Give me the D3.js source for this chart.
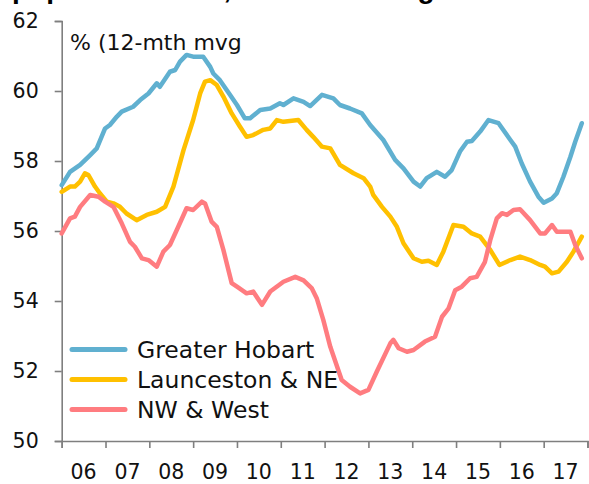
<!DOCTYPE html>
<html>
<head>
<meta charset="utf-8">
<script src="https://cdn.jsdelivr.net/npm/d3@7"></script>
<style>
  html, body { margin: 0; padding: 0; background: #fff; }
  svg { display: block; }
</style>
</head>
<body>
<svg id="chart" width="589" height="484"></svg>
<script>
// Employment-to-population ratio by Tasmanian region, 12-month moving average (%)
const seriesNames = ["Greater Hobart", "Launceston & NE", "NW & West"];
const seriesColors = ["#60B0D0", "#FFC000", "#FF7C80"];

const yearTicks = [2006, 2007, 2008, 2009, 2010, 2011, 2012, 2013, 2014, 2015, 2016, 2017, 2018];
const yearLabels = ["06", "07", "08", "09", "10", "11", "12", "13", "14", "15", "16", "17"];
const valueTicks = [50, 52, 54, 56, 58, 60, 62];

// [decimal year, %]
const hobart = [
  [2006.00, 57.31], [2006.19, 57.69], [2006.42, 57.89], [2006.65, 58.17], [2006.80, 58.36],
  [2006.99, 58.93], [2007.10, 59.03], [2007.26, 59.27], [2007.37, 59.41], [2007.63, 59.55],
  [2007.79, 59.74], [2007.98, 59.93], [2008.17, 60.22], [2008.24, 60.12], [2008.47, 60.55],
  [2008.59, 60.60], [2008.70, 60.84], [2008.85, 61.03], [2009.00, 60.98], [2009.23, 60.98],
  [2009.39, 60.69], [2009.46, 60.50], [2009.61, 60.31], [2009.84, 59.89], [2010.00, 59.60],
  [2010.18, 59.22], [2010.30, 59.22], [2010.53, 59.46], [2010.76, 59.50], [2010.98, 59.65],
  [2011.06, 59.60], [2011.29, 59.79], [2011.52, 59.69], [2011.67, 59.57], [2011.94, 59.89],
  [2012.20, 59.79], [2012.35, 59.60], [2012.58, 59.50], [2012.85, 59.36], [2013.04, 59.03],
  [2013.34, 58.60], [2013.61, 58.03], [2013.80, 57.79], [2014.03, 57.41], [2014.18, 57.27],
  [2014.33, 57.51], [2014.56, 57.69], [2014.75, 57.55], [2014.90, 57.74], [2015.09, 58.27],
  [2015.25, 58.55], [2015.36, 58.57], [2015.55, 58.84], [2015.74, 59.17], [2015.97, 59.08],
  [2016.24, 58.60], [2016.35, 58.41], [2016.50, 57.93], [2016.69, 57.41], [2016.88, 56.98],
  [2017.00, 56.81], [2017.19, 56.93], [2017.30, 57.08], [2017.45, 57.55], [2017.61, 58.12],
  [2017.72, 58.55], [2017.87, 59.08]
];

const launceston = [
  [2006.00, 57.12], [2006.19, 57.27], [2006.30, 57.27], [2006.42, 57.41], [2006.53, 57.65],
  [2006.61, 57.60], [2006.76, 57.27], [2006.87, 57.08], [2007.03, 56.84], [2007.18, 56.79],
  [2007.33, 56.69], [2007.48, 56.50], [2007.71, 56.31], [2007.94, 56.46], [2008.17, 56.55],
  [2008.36, 56.69], [2008.55, 57.27], [2008.78, 58.31], [2009.00, 59.17], [2009.16, 59.93],
  [2009.27, 60.27], [2009.39, 60.31], [2009.54, 60.17], [2009.69, 59.84], [2009.88, 59.36],
  [2010.07, 58.98], [2010.22, 58.69], [2010.37, 58.74], [2010.60, 58.89], [2010.76, 58.93],
  [2010.91, 59.17], [2011.06, 59.12], [2011.40, 59.17], [2011.59, 58.89], [2011.74, 58.69],
  [2011.94, 58.41], [2012.13, 58.36], [2012.35, 57.89], [2012.66, 57.65], [2012.89, 57.51],
  [2013.04, 57.27], [2013.11, 57.03], [2013.31, 56.69], [2013.50, 56.41], [2013.65, 56.12],
  [2013.80, 55.65], [2014.03, 55.22], [2014.22, 55.12], [2014.37, 55.15], [2014.56, 55.03],
  [2014.71, 55.41], [2014.94, 56.17], [2015.17, 56.12], [2015.36, 55.93], [2015.55, 55.84],
  [2015.78, 55.46], [2015.99, 55.03], [2016.24, 55.17], [2016.46, 55.27], [2016.69, 55.17],
  [2016.92, 55.03], [2017.03, 54.98], [2017.19, 54.79], [2017.34, 54.84], [2017.53, 55.12],
  [2017.68, 55.41], [2017.87, 55.84]
];

const nwWest = [
  [2006.00, 55.93], [2006.19, 56.36], [2006.30, 56.41], [2006.42, 56.69], [2006.65, 57.03],
  [2006.84, 56.98], [2006.99, 56.84], [2007.18, 56.69], [2007.37, 56.22], [2007.56, 55.69],
  [2007.67, 55.55], [2007.83, 55.22], [2007.98, 55.17], [2008.17, 54.98], [2008.32, 55.41],
  [2008.47, 55.60], [2008.66, 56.12], [2008.85, 56.65], [2009.00, 56.60], [2009.20, 56.84],
  [2009.27, 56.79], [2009.42, 56.27], [2009.54, 56.12], [2009.69, 55.46], [2009.88, 54.51],
  [2010.00, 54.41], [2010.22, 54.22], [2010.37, 54.27], [2010.57, 53.89], [2010.76, 54.27],
  [2011.06, 54.55], [2011.33, 54.69], [2011.52, 54.59], [2011.71, 54.36], [2011.82, 54.08],
  [2011.97, 53.46], [2012.13, 52.69], [2012.39, 51.74], [2012.58, 51.55], [2012.81, 51.36],
  [2013.00, 51.46], [2013.19, 51.98], [2013.50, 52.79], [2013.57, 52.89], [2013.69, 52.65],
  [2013.88, 52.55], [2014.03, 52.60], [2014.29, 52.84], [2014.52, 52.98], [2014.68, 53.55],
  [2014.83, 53.79], [2014.98, 54.31], [2015.13, 54.41], [2015.32, 54.65], [2015.47, 54.69],
  [2015.66, 55.12], [2015.78, 55.74], [2015.93, 56.36], [2016.05, 56.51], [2016.16, 56.46],
  [2016.31, 56.60], [2016.46, 56.62], [2016.69, 56.31], [2016.92, 55.93], [2017.03, 55.93],
  [2017.19, 56.17], [2017.30, 55.98], [2017.61, 55.98], [2017.72, 55.60], [2017.87, 55.22]
];

const seriesData = [hobart, launceston, nwWest];

const svg = d3.select("#chart");
const FONT = "'DejaVu Sans', 'Noto Sans', sans-serif";
const AXIS_COLOR = "#7f7f7f";

const plot = { left: 61.7, right: 587.5, top: 21, bottom: 441 };

const x = d3.scaleLinear().domain([2006, 2018]).range([plot.left, plot.right]);
const y = d3.scaleLinear().domain([50, 62]).range([plot.bottom, plot.top]);

// Heading, mostly above the visible area
svg.append("text")
  .attr("x", -198).attr("y", -2)
  .attr("font-family", "'Liberation Sans', Arial, sans-serif")
  .attr("font-weight", "bold")
  .attr("font-size", 28)
  .attr("fill", "#000")
  .text("Employment to population ratio, Tasmanian regions");

// Y axis
const yAxis = d3.axisLeft(y).tickValues(valueTicks).tickSize(7).tickPadding(16).tickFormat(d3.format("d"));
const gy = svg.append("g").attr("transform", `translate(${plot.left},0)`).call(yAxis);
gy.select(".domain").attr("stroke", AXIS_COLOR).attr("stroke-width", 1.6);
gy.selectAll(".tick line").attr("stroke", AXIS_COLOR).attr("stroke-width", 1.6);
gy.selectAll(".tick text").attr("font-family", FONT).attr("font-size", 20.5).attr("fill", "#111");

// X axis: ticks at year boundaries, labels centred in each year
const xAxis = d3.axisBottom(x).tickValues(yearTicks).tickSize(7).tickFormat("");
const gx = svg.append("g").attr("transform", `translate(0,${plot.bottom})`).call(xAxis);
gx.select(".domain").attr("stroke", AXIS_COLOR).attr("stroke-width", 1.6);
gx.selectAll(".tick line").attr("stroke", AXIS_COLOR).attr("stroke-width", 1.6);

svg.append("g")
  .selectAll("text")
  .data(yearLabels)
  .join("text")
  .attr("x", (d, i) => x(yearTicks[i] + 0.5))
  .attr("y", plot.bottom + 38)
  .attr("text-anchor", "middle")
  .attr("font-family", FONT)
  .attr("font-size", 20.5)
  .attr("fill", "#111")
  .text(d => d);

// Unit note
svg.append("text")
  .attr("x", 70).attr("y", 50)
  .attr("font-family", FONT)
  .attr("font-size", 22)
  .attr("fill", "#111")
  .text("% (12-mth mvg");

// Series lines
const line = d3.line().x(d => x(d[0])).y(d => y(d[1])).curve(d3.curveLinear);
svg.append("g")
  .selectAll("path")
  .data(seriesData)
  .join("path")
  .attr("d", line)
  .attr("fill", "none")
  .attr("stroke", (d, i) => seriesColors[i])
  .attr("stroke-width", 4.5)
  .attr("stroke-linejoin", "round")
  .attr("stroke-linecap", "round");

// Legend
const legend = svg.append("g")
  .selectAll("g")
  .data(seriesNames)
  .join("g")
  .attr("transform", (d, i) => `translate(0,${349.5 + i * 30})`);
legend.append("line")
  .attr("x1", 72).attr("x2", 125)
  .attr("stroke", (d, i) => seriesColors[i])
  .attr("stroke-width", 5)
  .attr("stroke-linecap", "round");
legend.append("text")
  .attr("x", 137).attr("y", 0)
  .attr("dy", "0.36em")
  .attr("font-family", FONT)
  .attr("font-size", 23.5)
  .attr("fill", "#111")
  .text(d => d);
</script>
</body>
</html>
